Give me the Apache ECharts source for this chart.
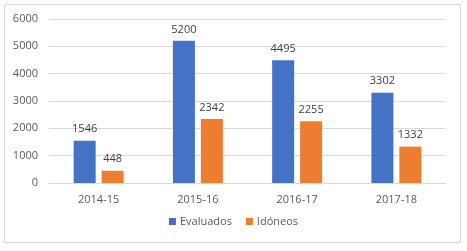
<!DOCTYPE html>
<html>
<head>
<meta charset="utf-8">
<script src="https://cdn.jsdelivr.net/npm/echarts@6/dist/echarts.min.js"></script>
<style>
  html, body { margin: 0; padding: 0; background: #fff; }
  #chart { width: 467px; height: 251px; }
</style>
</head>
<body>
<div id="chart"></div>
<script>
var categories = ['2014-15', '2015-16', '2016-17', '2017-18'];
var evaluados = [1546, 5200, 4495, 3302];
var idoneos = [448, 2342, 2255, 1332];

var myChart = echarts.init(document.getElementById('chart'));
var font = '"Open Sans", "Liberation Sans", sans-serif';

var option = {
  animation: false,
  color: ['#4472C4', '#ED7D31'],
  textStyle: { fontFamily: font },
  graphic: [{
    type: 'rect',
    shape: { x: 4.5, y: 4.5, width: 456, height: 238 },
    style: { fill: 'none', stroke: '#d9d9d9', lineWidth: 1 },
    silent: true
  }],
  grid: { left: 49, right: 21, top: 19, bottom: 68 },
  legend: {
    bottom: 19,
    left: 'center',
    itemWidth: 7,
    itemHeight: 7,
    itemGap: 14,
    icon: 'rect',
    textStyle: { color: '#595959', fontSize: 11, fontFamily: font, padding: [0, 0, 0, -1] },
    data: ['Evaluados', 'Idóneos']
  },
  xAxis: {
    type: 'category',
    data: categories,
    axisLine: { lineStyle: { color: '#d9d9d9' } },
    axisTick: { show: false },
    axisLabel: { color: '#595959', fontSize: 11, margin: 11, fontFamily: font }
  },
  yAxis: {
    type: 'value',
    min: 0,
    max: 6000,
    interval: 1000,
    axisLabel: {
      color: '#595959', fontSize: 11, margin: 11, fontFamily: font,
      formatter: function (v) { return String(v); }
    },
    splitLine: { lineStyle: { color: '#d9d9d9' } }
  },
  series: [
    {
      name: 'Evaluados',
      type: 'bar',
      data: evaluados,
      barWidth: 22,
      barGap: '27%',
      label: { show: true, position: 'top', color: '#404040', fontSize: 11, distance: 6, fontFamily: font }
    },
    {
      name: 'Idóneos',
      type: 'bar',
      data: idoneos,
      barWidth: 22,
      label: { show: true, position: 'top', color: '#404040', fontSize: 11, distance: 6, fontFamily: font }
    }
  ]
};
myChart.setOption(option);
</script>
</body>
</html>
